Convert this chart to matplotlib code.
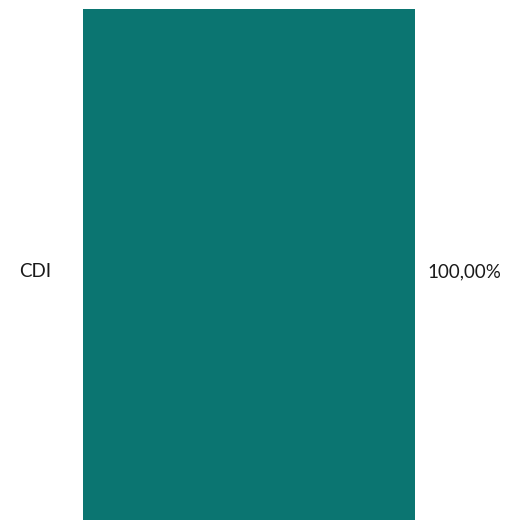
import matplotlib.pyplot as plt

# data
categories = ['CDI']
values = [100.0]
value_labels = ['100,00%']

plt.rcParams['font.family'] = ['Lato', 'DejaVu Sans']

fig = plt.figure(figsize=(5.07, 5.20), dpi=100)
# bar area: x 83..415 px, top at 9 px, runs a little past the bottom edge
ax = fig.add_axes([83 / 507, -14 / 520, (415 - 83) / 507, 525 / 520])

ax.barh(categories, values, height=1.0, color='#0b7571')
ax.set_xlim(0, max(values))
ax.set_ylim(-0.5, 0.5)
ax.axis('off')

for i, (cat, lab) in enumerate(zip(categories, value_labels)):
    ax.annotate(cat, (0, i), xytext=(-22.5, 0), textcoords='offset points',
                ha='right', va='center', fontsize=13.5, color='#1a1a1a')
    ax.annotate(lab, (values[i], i), xytext=(9, 0), textcoords='offset points',
                ha='left', va='center', fontsize=13.5, color='#1a1a1a')

fig.savefig('out.png', dpi=100)
